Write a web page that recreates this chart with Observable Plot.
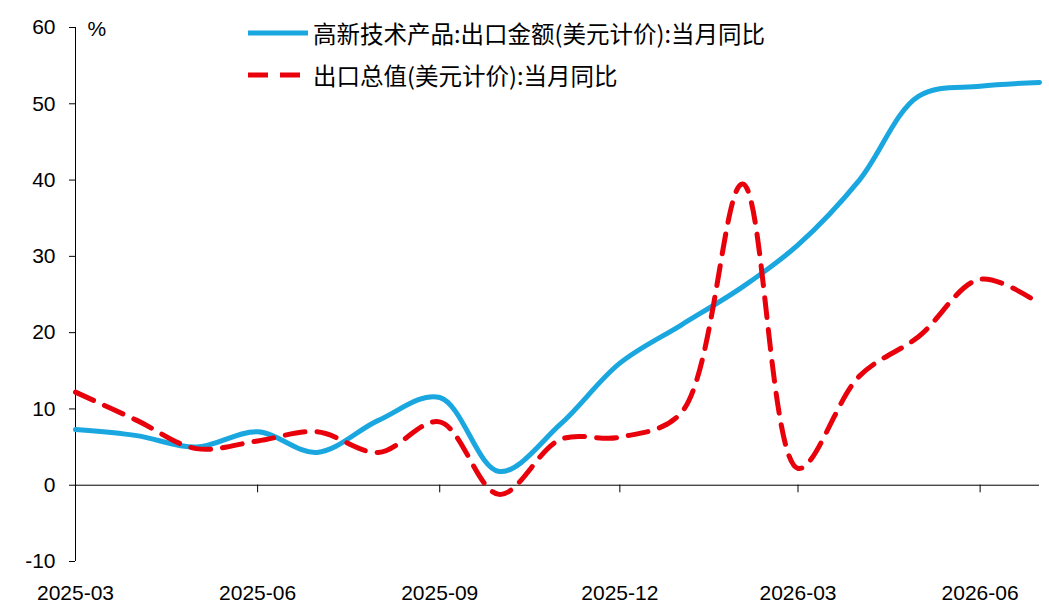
<!DOCTYPE html>
<html><head><meta charset="utf-8">
<script src="https://cdn.jsdelivr.net/npm/d3@7"></script>
<script src="https://cdn.jsdelivr.net/npm/@observablehq/plot@0.6"></script>
<style>
body{margin:0;background:#fff;font-family:"Liberation Sans",Arial,sans-serif}
#wrap{position:relative;width:1049px;height:615px}
.leg{position:absolute;font-family:"Noto Sans CJK SC",sans-serif;font-size:23.5px;color:#000;display:flex;align-items:center}
.leg svg{margin-right:5px}
</style></head><body>
<div id="wrap"></div>
<script>
const months = ["2025-03","2025-04","2025-05","2025-06","2025-07","2025-08","2025-09","2025-10","2025-11","2025-12","2026-01","2026-02","2026-03","2026-04","2026-05","2026-06","2026-07"];
const hiTech = [7.3,6.5,5.0,7.0,4.3,8.5,11.5,1.8,8.0,16.0,21.0,26.0,31.5,40.0,51.0,52.3,52.8];
const total = [12.2,8.5,4.8,5.8,7.0,4.3,8.3,-1.2,6.0,6.3,9.5,39.5,2.2,14.3,19.5,27.0,23.8];
const tickLabels = ["2025-03","2025-06","2025-09","2025-12","2026-03","2026-06"];
const yTicks = [-10,0,10,20,30,40,50,60];
const name1 = "高新技术产品:出口金额(美元计价):当月同比";
const name2 = "出口总值(美元计价):当月同比";

const parse = d3.utcParse("%Y-%m");
const d1 = months.map((m,i)=>({x:parse(m),y:hiTech[i]}));
const d2 = months.map((m,i)=>({x:parse(m),y:total[i]}));
const tks = tickLabels.map(parse);

const chart = Plot.plot({
  width:1049, height:615,
  marginLeft:75, marginRight:10, marginTop:27, marginBottom:54,
  style:{fontFamily:"Liberation Sans, Arial, sans-serif", fontSize:"21px", background:"#fff"},
  x:{type:"utc", domain:[parse("2025-03"),parse("2026-07")]},
  y:{domain:[-10,60]},
  marks:[
    Plot.axisY({ticks:yTicks, tickSize:6, tickFormat:d=>d, fontSize:21, label:null, tickPadding:14}),
    Plot.ruleX([0],{x:()=>parse("2025-03"), stroke:"#000"}),
    Plot.ruleY([0],{stroke:"#000"}),
    Plot.ruleX(tks,{x:d=>d,y1:0,y2:-1,stroke:"#000"}),
    Plot.axisX({ticks:tks, tickSize:0, tickFormat:d3.utcFormat("%Y-%m"), fontSize:21, label:null, tickPadding:24}),
    Plot.text(["%"],{x:parse("2025-03"),y:60,dx:12,dy:2,fontSize:21,textAnchor:"start"}),
    Plot.line(d1,{x:"x",y:"y",stroke:"#1aa7e0",strokeWidth:5,curve:"catmull-rom"}),
    Plot.line(d2,{x:"x",y:"y",stroke:"#e8000b",strokeWidth:5,strokeDasharray:"20,12",curve:"catmull-rom"})
  ]
});
const wrap=document.getElementById("wrap");
wrap.appendChild(chart);
function leg(top,color,dash,text){
  const d=document.createElement("div");d.className="leg";d.style.left="248px";d.style.top=top+"px";
  d.innerHTML=`<svg width="60" height="10"><line x1="0" y1="5" x2="60" y2="5" stroke="${color}" stroke-width="5" ${dash?'stroke-dasharray="20,12"':''}/></svg><span>${text}</span>`;
  wrap.appendChild(d);
}
leg(16,"#1aa7e0",false,name1);
leg(58,"#e8000b",true,name2);
</script></body></html>
